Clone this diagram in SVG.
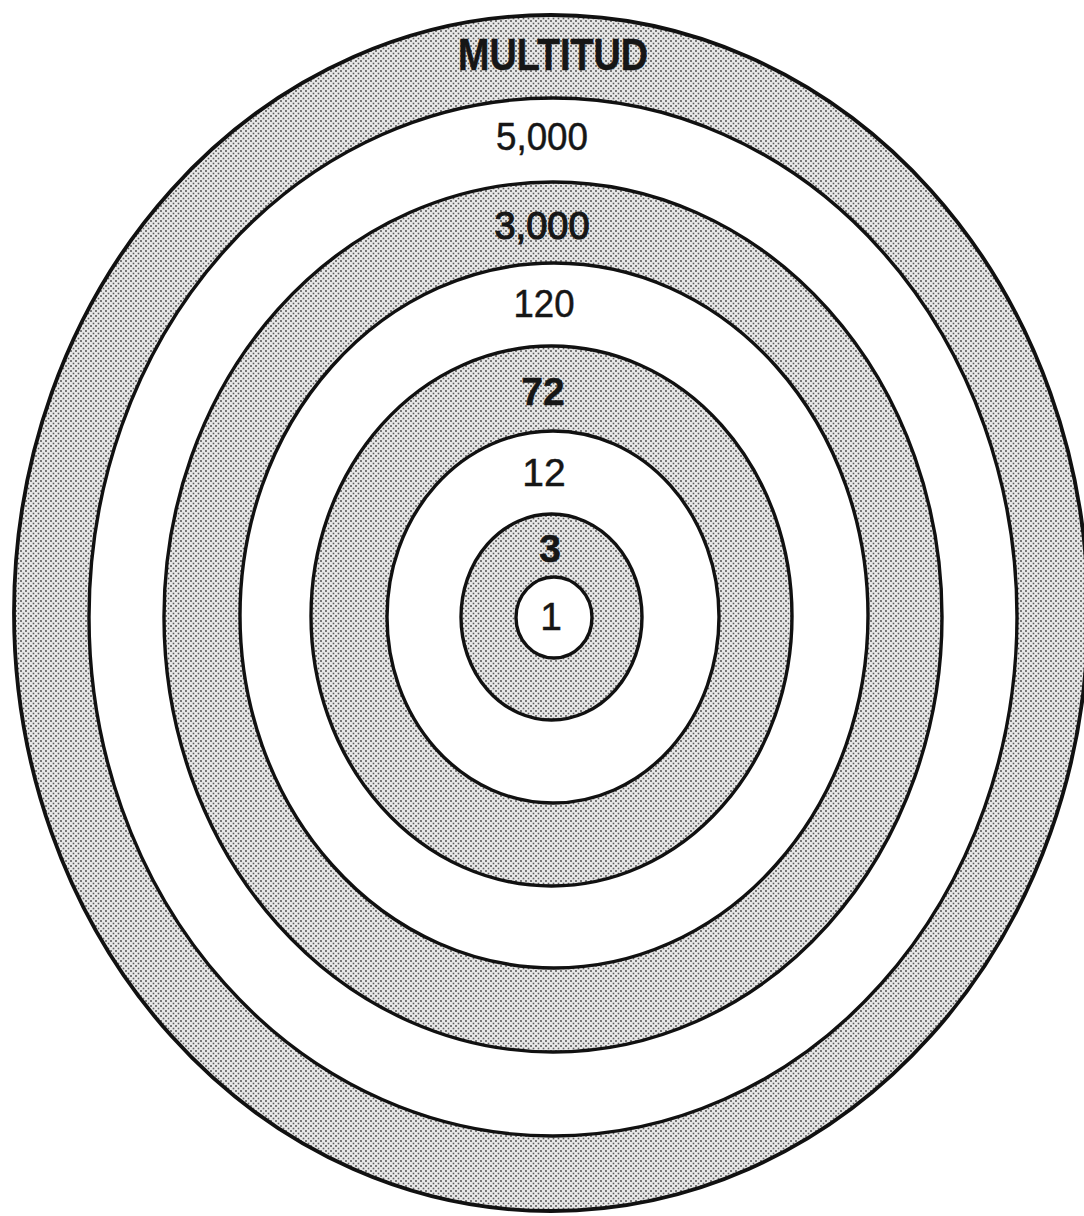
<svg xmlns="http://www.w3.org/2000/svg" width="1084" height="1216" viewBox="0 0 1084 1216">
  <defs>
    <pattern id="dots" width="5" height="5" patternUnits="userSpaceOnUse">
      <rect width="5" height="5" fill="#e8e8e8"/>
      <rect x="0.2" y="0.2" width="1.6" height="1.6" fill="#3a3a3a"/>
      <rect x="2.7" y="2.7" width="1.6" height="1.6" fill="#5c5c5c"/>
    </pattern>
  </defs>
  <style>
    .ring { stroke: #111; stroke-width: 3.4; }
    .shaded { fill: url(#dots); }
    .white { fill: #ffffff; }
    .lbl { font-family: "Liberation Sans", Arial, sans-serif; font-size: 39px; fill: #161616; text-anchor: middle; stroke: #161616; stroke-width: 0.5; }
    .big { font-weight: bold; font-size: 44px; }
  </style>
  <rect width="1084" height="1216" fill="#ffffff"/>
  <g id="ring-multitud">
    <ellipse class="ring shaded" cx="551" cy="613" rx="537" ry="598" style="stroke-width:3.8"/>
    <text class="lbl big" x="553" y="70" textLength="190" lengthAdjust="spacingAndGlyphs">MULTITUD</text>
  </g>
  <g id="ring-5000">
    <ellipse class="ring white" cx="553" cy="617" rx="464" ry="519"/>
    <text class="lbl" x="542" y="150" textLength="92" lengthAdjust="spacingAndGlyphs">5,000</text>
  </g>
  <g id="ring-3000">
    <ellipse class="ring shaded" cx="553" cy="617" rx="389" ry="435"/>
    <text class="lbl" x="542" y="239" textLength="95" lengthAdjust="spacingAndGlyphs" style="stroke-width:1.2">3,000</text>
  </g>
  <g id="ring-120">
    <ellipse class="ring white" cx="554" cy="615.5" rx="314" ry="352.5"/>
    <text class="lbl" x="544" y="317" textLength="61" lengthAdjust="spacingAndGlyphs">120</text>
  </g>
  <g id="ring-72">
    <ellipse class="ring shaded" cx="551.5" cy="616" rx="240.5" ry="270"/>
    <text class="lbl" x="543" y="405" style="font-weight:bold">72</text>
  </g>
  <g id="ring-12">
    <ellipse class="ring white" cx="553" cy="617" rx="166" ry="186"/>
    <text class="lbl" x="544" y="486">12</text>
  </g>
  <g id="ring-3">
    <ellipse class="ring shaded" cx="551.5" cy="617" rx="90.5" ry="103"/>
    <text class="lbl" x="550" y="562" style="font-weight:bold">3</text>
  </g>
  <g id="ring-1">
    <ellipse class="ring white" cx="554" cy="617.5" rx="38" ry="40.5"/>
    <text class="lbl" x="551" y="630">1</text>
  </g>
</svg>
